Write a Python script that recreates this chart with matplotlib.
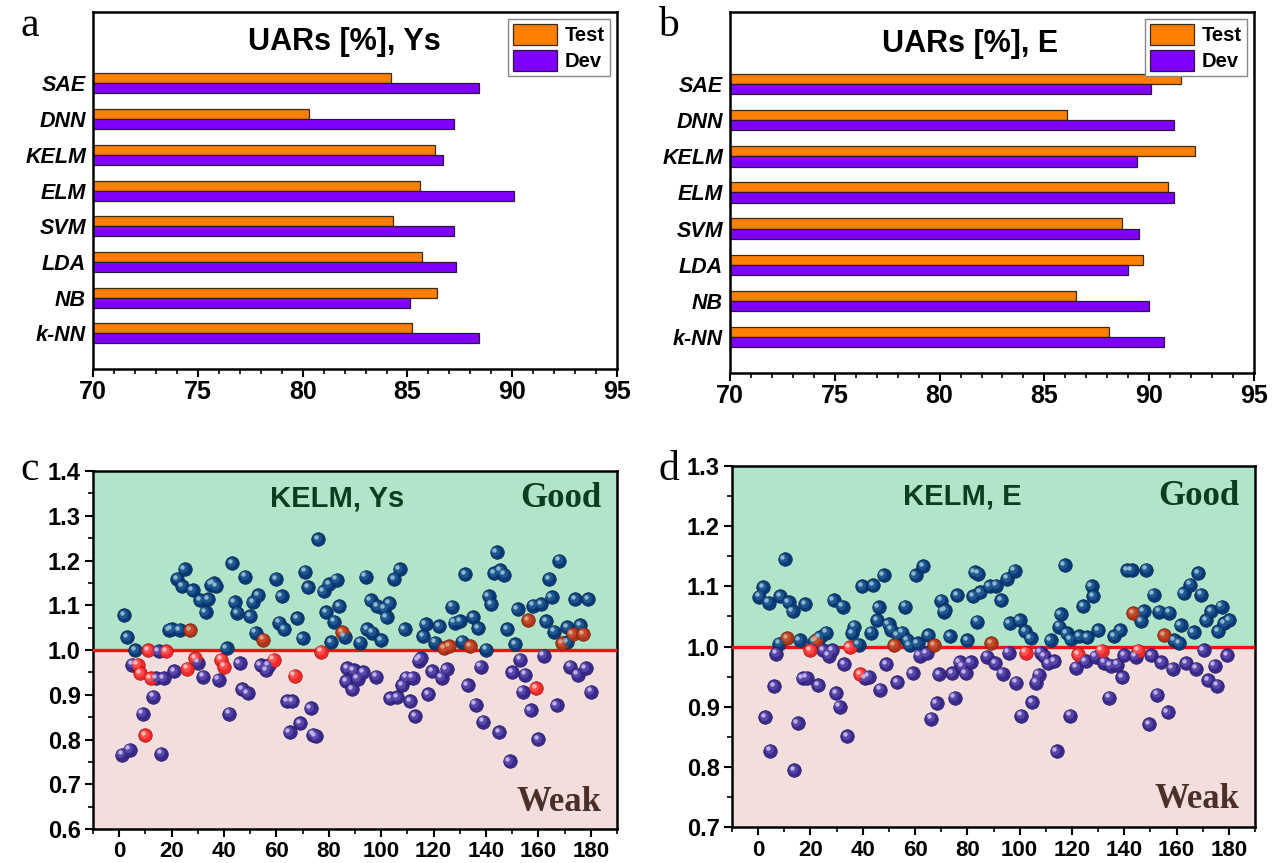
import numpy as np
import matplotlib.pyplot as plt
from matplotlib.transforms import offset_copy
from matplotlib.ticker import MultipleLocator, FormatStrFormatter

plt.rcParams['font.family'] = ['Liberation Sans', 'DejaVu Sans']

# ---------------- data ----------------
methods = ['SAE', 'DNN', 'KELM', 'ELM', 'SVM', 'LDA', 'NB', 'k-NN']
ys_test = [84.2, 80.3, 86.3, 85.6, 84.3, 85.7, 86.4, 85.2]
ys_dev = [88.4, 87.2, 86.7, 90.1, 87.2, 87.3, 85.1, 88.4]
e_test = [91.5, 86.1, 92.2, 90.9, 88.7, 89.7, 86.5, 88.1]
e_dev = [90.1, 91.2, 89.4, 91.2, 89.5, 89.0, 90.0, 90.7]

# KELM ratio per sample, Ys (regular points)
ys_x = [1, 2, 3, 4, 5, 6, 9, 13, 14, 15, 16, 17, 19, 20, 21, 22, 23, 24, 25, 28,
        30, 31, 32, 33, 34, 35, 36, 37, 38, 41, 42, 43, 44, 45, 46, 47, 48, 49, 50, 51,
        52, 53, 54, 56, 57, 60, 61, 62, 63, 64, 65, 66, 68, 69, 70, 71, 72, 73, 74, 75,
        76, 78, 79, 80, 81, 82, 83, 84, 86, 87, 86.6, 89, 89.5, 91, 92, 93, 94, 94.5, 96, 96.5,
        98, 98.5, 100, 101, 102, 103, 103.5, 105, 106, 107, 108, 109, 109.5, 111, 112, 113, 114.3, 115, 116, 117,
        118, 119.5, 120.5, 122, 123, 125, 127, 128, 130, 131, 132, 133, 135, 136, 137, 138, 139, 140, 141, 142,
        143, 144, 145, 145.5, 147, 148, 149, 150, 151, 152, 153, 154, 155, 157, 158, 160, 161, 162, 163, 164,
        165, 166, 167, 168, 171, 171, 172, 174, 175, 176, 178, 179, 180]
ys_v = [0.766, 1.078, 1.028, 0.777, 0.967, 1.000, 0.858, 0.896, 0.937, 0.997, 0.768, 0.937, 1.045, 1.047, 0.952, 1.159, 1.045, 1.143, 1.180, 1.134,
        0.972, 1.111, 0.940, 1.084, 1.113, 1.146, 1.150, 1.143, 0.934, 1.004, 0.858, 1.194, 1.107, 1.083, 0.970, 0.913, 1.164, 0.904, 1.076, 1.107,
        1.039, 1.122, 0.966, 0.955, 0.966, 1.159, 1.061, 1.120, 1.046, 0.886, 0.817, 0.886, 1.071, 0.837, 1.026, 1.175, 1.140, 0.870, 0.811, 0.807,
        1.248, 1.131, 1.084, 1.147, 1.017, 1.063, 1.157, 1.098, 1.030, 0.960, 0.930, 0.913, 0.955, 0.936, 1.016, 0.951, 1.164, 1.046, 1.112, 1.039,
        0.940, 1.098, 1.022, 1.092, 1.073, 1.105, 0.892, 1.159, 0.895, 1.180, 0.921, 1.046, 0.938, 0.886, 0.938, 0.852, 0.976, 0.982, 1.031, 1.058,
        0.901, 0.952, 1.016, 1.053, 0.938, 0.957, 1.097, 1.061, 1.065, 1.019, 1.169, 0.922, 1.073, 0.878, 1.049, 0.963, 0.840, 1.001, 1.120, 1.103,
        1.172, 1.218, 0.816, 1.179, 1.168, 1.047, 0.751, 0.950, 1.013, 1.091, 0.978, 0.907, 0.945, 0.865, 1.099, 0.801, 1.103, 0.987, 1.065, 1.159,
        1.118, 1.041, 0.876, 1.200, 1.051, 1.017, 0.963, 1.114, 0.945, 1.055, 0.960, 1.114, 0.907]
# red marked samples, Ys
ys_red_x = [7, 8, 10, 11, 12, 18, 26, 27, 29, 39, 40, 55, 59, 67, 77, 85, 124, 126, 134, 156, 159, 169, 173, 177]
ys_red_v = [0.967, 0.948, 0.810, 1.000, 0.937, 0.998, 0.958, 1.044, 0.982, 0.978, 0.963, 1.023, 0.978, 0.943, 0.996,
            1.040, 1.004, 1.009, 1.009, 1.067, 0.915, 1.015, 1.035, 1.035]

# KELM ratio per sample, E (regular points)
e_x = [0.5, 2, 2.7, 4, 4.6, 6.1, 6.9, 8, 8.4, 10.1, 11.6, 13.2, 13.8, 15.1, 15.8, 17, 18, 18.6, 21.5, 22.9,
       23.5, 24.8, 25.9, 27, 28.2, 28.9, 29.8, 31.2, 32.3, 33, 34, 36, 36.8, 38.4, 39.7, 41, 42.3, 43.2, 43.9, 45.5,
       46.1, 46.7, 48, 49, 49.9, 50.8, 53.1, 53.4, 55, 56.3, 57, 57.9, 59.1, 60.2, 61, 61.8, 63.1, 64.4, 64.9, 66.2,
       68.2, 69.1, 70, 71, 71.6, 73.3, 74.2, 75.1, 76.1, 77.1, 78, 79.3, 80, 81.2, 82.2, 82.8, 83.8, 84.1, 85, 87.6,
       88.5, 90.6, 91.1, 93, 93.5, 95.3, 95.8, 96.2, 98.1, 98.6, 100, 100.6, 102, 104.2, 104.7, 106.4, 107.3, 108, 109.3, 110.8,
       111.9, 113.2, 114.2, 115, 115.7, 117.2, 118, 119.3, 119.5, 121.5, 122.7, 124.4, 125.3, 125.9, 127.5, 128.2, 129.1, 130, 132.3, 134.2,
       134.8, 136.2, 137.2, 138.4, 139.3, 140, 141.2, 142.8, 144.4, 146.4, 147.4, 148.3, 149.5, 150.2, 151.2, 152.5, 153.4, 154, 156.6, 157.2,
       158.5, 159.2, 161.1, 161.5, 162.7, 163.6, 165.3, 166.6, 167.4, 168.3, 169.4, 170.4, 171.3, 172.2, 173.2, 174.5, 175.6, 176, 177.3, 178.3,
       179.4, 180.2]
e_v = [1.083, 1.099, 0.883, 1.073, 0.827, 0.934, 0.988, 1.005, 1.084, 1.145, 1.074, 1.059, 0.794, 0.873, 1.010, 0.947, 1.070, 0.948, 1.008, 0.936,
       1.016, 0.994, 1.023, 0.985, 0.994, 1.077, 0.922, 0.900, 1.066, 0.971, 0.851, 1.022, 1.033, 1.003, 1.100, 0.947, 0.950, 1.023, 1.102, 1.044,
       1.065, 0.928, 1.119, 0.971, 1.037, 1.028, 0.941, 1.019, 1.023, 1.066, 1.011, 1.002, 0.956, 1.119, 1.006, 0.985, 1.134, 0.989, 1.019, 0.880,
       0.906, 0.954, 1.076, 1.058, 1.060, 1.017, 0.956, 0.915, 1.085, 0.974, 0.967, 0.956, 1.010, 0.974, 1.084, 1.124, 1.041, 1.121, 1.090, 0.983,
       1.100, 0.972, 1.101, 1.077, 0.955, 1.113, 0.990, 1.039, 1.126, 0.940, 1.044, 0.885, 1.025, 1.014, 0.907, 0.940, 0.953, 0.990, 0.984, 0.972,
       1.011, 0.976, 0.826, 1.033, 1.054, 1.135, 1.022, 0.885, 1.012, 0.965, 1.017, 1.067, 0.976, 1.016, 1.100, 1.084, 0.983, 1.027, 0.973, 0.915,
       0.968, 1.017, 0.970, 1.027, 0.949, 0.986, 1.127, 1.127, 0.983, 1.042, 1.059, 1.128, 0.871, 0.986, 1.086, 0.920, 1.058, 0.974, 0.891, 1.056,
       0.963, 1.011, 1.006, 1.035, 1.089, 0.972, 1.103, 1.024, 0.963, 1.122, 1.086, 0.994, 1.044, 0.944, 1.059, 0.968, 0.935, 1.025, 1.066, 1.039,
       0.986, 1.044]
# red marked samples, E
e_red_x = [11, 19.9, 22.2, 35, 39.1, 51.9, 67.2, 89.1, 102.3, 122.3, 131.3, 143.5, 145.3, 155.2]
e_red_v = [1.014, 0.994, 1.010, 0.999, 0.954, 1.002, 1.002, 1.006, 0.990, 0.987, 0.993, 1.055, 0.993, 1.019]

# ---------------- figure ----------------
fig = plt.figure(figsize=(12.8, 8.63), dpi=100)

ORANGE = '#ff8000'
PURPLE = '#8000ff'
GREEN_BG = '#b1e5c9'
PINK_BG = '#f2dedd'
serif = ['Liberation Serif', 'DejaVu Serif']


def bar_panel(ax, test, dev, title, title_xy):
    ypos = np.arange(len(methods))[::-1]
    h = 0.28
    ax.barh(ypos + h / 2, test, height=h, left=0, color=ORANGE, edgecolor='#3a2a1a', linewidth=0.9, label='Test')
    ax.barh(ypos - h / 2, dev, height=h, left=0, color=PURPLE, edgecolor='#2a1a3a', linewidth=0.9, label='Dev')
    ax.set_xlim(70, 95)
    ax.set_ylim(-1, 9)
    ax.set_yticks(ypos)
    ax.set_yticklabels(methods, fontsize=15.5, fontweight='bold', fontstyle='italic')
    ax.tick_params(axis='y', length=0, pad=5)
    ax.xaxis.set_major_locator(MultipleLocator(5))
    ax.xaxis.set_minor_locator(MultipleLocator(1))
    ax.tick_params(axis='x', which='major', direction='out', length=6, width=1.5, labelsize=18, pad=2)
    ax.tick_params(axis='x', which='minor', direction='out', length=3.5, width=1.2)
    for t in ax.get_xticklabels():
        t.set_fontweight('bold')
    for s in ax.spines.values():
        s.set_linewidth(1.8)
    ax.text(title_xy[0], title_xy[1], title, transform=ax.transAxes, ha='center', va='center',
            fontsize=22, fontweight='bold')
    leg = ax.legend(loc='upper right', prop={'weight': 'bold', 'size': 14.5},
                    handlelength=2.2, handleheight=1.25, borderaxespad=0.35,
                    fancybox=False, edgecolor='#888888', framealpha=1,
                    handletextpad=0.4, labelspacing=0.2, borderpad=0.25)
    leg.get_frame().set_linewidth(1.0)


def spheres(ax, x, y, base, mid, hi, edge):
    ax.scatter(x, y, s=95, c=base, edgecolors=edge, linewidths=0.5, zorder=4)
    tr1 = offset_copy(ax.transData, fig=fig, x=-1.0, y=1.0, units='points')
    ax.scatter(x, y, s=42, c=mid, linewidths=0, zorder=5, transform=tr1)
    tr2 = offset_copy(ax.transData, fig=fig, x=-1.7, y=1.7, units='points')
    ax.scatter(x, y, s=10, c=hi, linewidths=0, zorder=6, transform=tr2)


def scatter_panel(ax, x, v, rx, rv, ylo, yhi, title, title_x, good_y, weak_y):
    x = np.array(x)
    v = np.array(v)
    rx = np.array(rx)
    rv = np.array(rv)
    ax.axhspan(1.0, yhi, color=GREEN_BG, zorder=0)
    ax.axhspan(ylo, 1.0, color=PINK_BG, zorder=0)
    up = v >= 1.0
    spheres(ax, x[up], v[up], '#0b3a78', '#1e5890', '#8fb8cc', '#062550')
    spheres(ax, x[~up], v[~up], '#3a2a8c', '#5846aa', '#c0b2e6', '#241a60')
    rup = rv > 1.0
    spheres(ax, rx[rup], rv[rup], '#b0331a', '#c44a2c', '#d9a080', '#70200e')
    spheres(ax, rx[~rup], rv[~rup], '#f02a2a', '#ff4c4c', '#ffb8b8', '#a01010')
    ax.axhline(1.0, color='#ff1010', linewidth=2.4, zorder=3)
    ax.set_xlim(-10, 190)
    ax.set_ylim(ylo, yhi)
    ax.xaxis.set_major_locator(MultipleLocator(20))
    ax.xaxis.set_minor_locator(MultipleLocator(10))
    ax.yaxis.set_major_locator(MultipleLocator(0.1))
    ax.yaxis.set_minor_locator(MultipleLocator(0.05))
    ax.yaxis.set_major_formatter(FormatStrFormatter('%.1f'))
    ax.tick_params(which='major', direction='out', length=6, width=1.5, labelsize=17, pad=3)
    ax.tick_params(which='minor', direction='out', length=3.5, width=1.2)
    ax.tick_params(axis='x', labelsize=16)
    for t in ax.get_xticklabels() + ax.get_yticklabels():
        t.set_fontweight('bold')
    for s in ax.spines.values():
        s.set_linewidth(1.8)
    ax.text(title_x, good_y, title, ha='center', va='center', fontsize=21,
            fontweight='bold', color='#0b3d1e', zorder=7)
    ax.text(184, good_y, 'Good', ha='right', va='center', fontsize=25,
            fontweight='bold', color='#0b3d1e', family=serif, zorder=7)
    ax.text(184, weak_y, 'Weak', ha='right', va='center', fontsize=25,
            fontweight='bold', color='#4a3028', family=serif, zorder=7)


ax_a = fig.add_axes([0.0727, 0.5724, 0.4094, 0.4137])
bar_panel(ax_a, ys_test, ys_dev, 'UARs [%], Ys', (0.48, 0.915))

ax_b = fig.add_axes([0.5703, 0.5678, 0.4094, 0.4183])
bar_panel(ax_b, e_test, e_dev, 'UARs [%], E', (0.458, 0.91))

ax_c = fig.add_axes([0.0727, 0.0394, 0.4094, 0.4148])
scatter_panel(ax_c, ys_x, ys_v, ys_red_x, ys_red_v, 0.6, 1.4, 'KELM, Ys', 83, 1.338, 0.66)

ax_d = fig.add_axes([0.5719, 0.0417, 0.4086, 0.4183])
scatter_panel(ax_d, e_x, e_v, e_red_x, e_red_v, 0.7, 1.3, 'KELM, E', 78, 1.25, 0.745)

for lab, px, py in [('a', 20, 26), ('b', 658, 26), ('c', 20, 470), ('d', 658, 470)]:
    fig.text(px / 1280, 1 - py / 863, lab, fontsize=30, family=serif, ha='left', va='center')

fig.savefig('out.png', dpi=100)
